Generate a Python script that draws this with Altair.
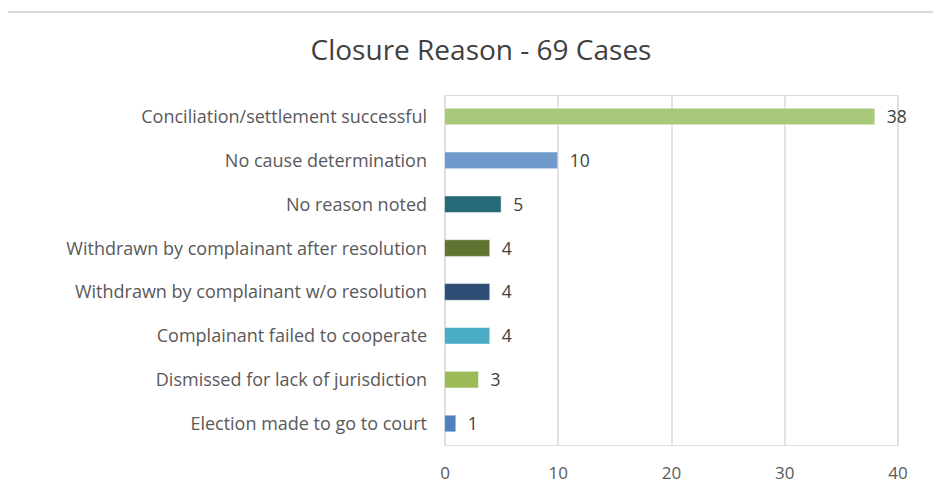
import altair as alt
import pandas as pd

reasons = [
    "Conciliation/settlement successful",
    "No cause determination",
    "No reason noted",
    "Withdrawn by complainant after resolution",
    "Withdrawn by complainant w/o resolution",
    "Complainant failed to cooperate",
    "Dismissed for lack of jurisdiction",
    "Election made to go to court",
]
cases = [38, 10, 5, 4, 4, 4, 3, 1]
colors = ["#A9C97A", "#7099CC", "#266977", "#617330", "#2E4D75", "#4BACC6", "#9BBB59", "#4F81BD"]

df = pd.DataFrame({"reason": reasons, "cases": cases, "color": colors})

FONT = "Open Sans"

y_enc = alt.Y("reason:N", sort=reasons,
              scale=alt.Scale(paddingInner=0.62, paddingOuter=0.3),
              axis=alt.Axis(title=None, ticks=False, domain=False, labelFontSize=18,
                            labelColor="#595959", labelFont=FONT, labelPadding=18,
                            labelOffset=1.5, labelLimit=430))
x_enc = alt.X("cases:Q", scale=alt.Scale(domain=[0, 40], nice=False),
              axis=alt.Axis(title=None, values=[0, 10, 20, 30, 40], ticks=False, domain=False,
                            grid=True, gridColor="#D9D9D9", gridWidth=1.5,
                            labelFontSize=17, labelColor="#595959", labelFont=FONT,
                            labelPadding=20, labelFlush=False, format="d"))

bars = alt.Chart(df).mark_bar(stroke="white", strokeWidth=0.5).encode(
    y=y_enc, x=x_enc,
    color=alt.Color("color:N", scale=None),
)
labels = alt.Chart(df).mark_text(align="left", dx=12, dy=1.5, fontSize=17.5, font=FONT,
                                 color="#404040").encode(
    y=alt.Y("reason:N", sort=reasons), x="cases:Q", text="cases:Q")

frame_top = alt.Chart(df).mark_rule(color="#D9D9D9", strokeWidth=1.5).encode(
    x=alt.value(-437.5), x2=alt.value(520), y=alt.value(-83))
frame_left = alt.Chart(df).mark_rule(color="#D9D9D9", strokeWidth=1.5).encode(
    x=alt.value(-437.5), y=alt.value(-83), y2=alt.value(420))

chart = alt.layer(frame_top, frame_left, bars, labels).properties(
    width=453, height=350,
    autosize=alt.AutoSizeParams(type="none"),
    padding={"left": 436.5, "top": 87, "right": 35, "bottom": 42},
    title=alt.TitleParams("Closure Reason - 69 Cases", fontSize=28, font=FONT,
                          fontWeight="normal", color="#404040", dx=-190,
                          anchor="middle", offset=0, dy=55),
).configure_view(stroke=None).configure(background="white")

chart.save("out.html", embed_options={"renderer": "svg", "actions": False})
